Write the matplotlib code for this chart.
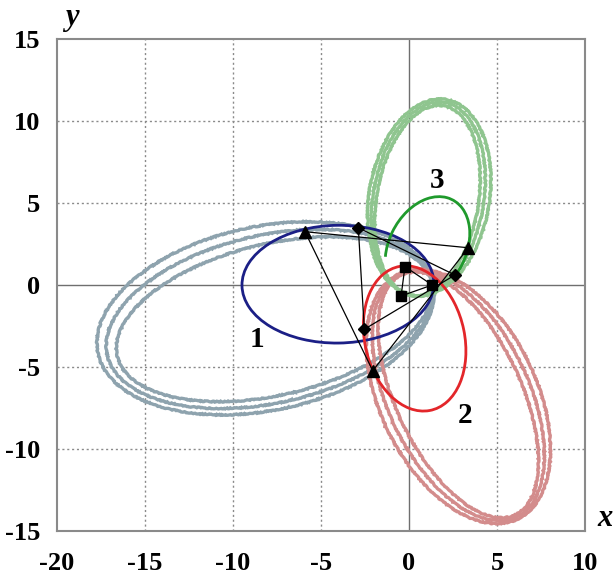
import numpy as np
import matplotlib
matplotlib.use("Agg")
import matplotlib.pyplot as plt
from matplotlib.patches import Ellipse, Arc

# ---- data (ellipse parameters) ----
# wide precessing loops (3 loops per body): center x, center y, width, height, angle
gray_cx = [-8.16, -7.91, -7.66]
gray_cy = [-2.03, -2.07, -2.09]
gray_w = [19.5, 19.0, 18.4]
gray_h = [11.18, 10.2, 9.18]
gray_ang = [13.4, 14.1, 14.9]

pink_cx = [2.80, 2.80, 2.80]
pink_cy = [-6.80, -6.75, -6.70]
pink_w = [16.4, 16.2, 16.0]
pink_h = [9.0, 8.1, 7.2]
pink_ang = [-67.0, -67.0, -67.0]

lgreen_cx = [1.15, 1.10, 1.05]
lgreen_cy = [5.33, 5.25, 5.15]
lgreen_w = [6.85, 6.30, 5.80]
lgreen_h = [12.11, 11.9, 11.7]
lgreen_ang = [-8.5, -8.5, -8.5]

# the three small orbits 1, 2, 3
orb_cx = [-4.04, 0.32, 1.05]
orb_cy = [0.05, -3.26, 2.27]
orb_w = [10.90, 5.68, 6.51]
orb_h = [7.18, 8.95, 4.43]
orb_ang = [0.9, 10.9, 66.9]
orb_t1 = [0, 0, -114]
orb_t2 = [360, 360, 126]
orb_labels = ["1", "2", "3"]
label_x = [-8.65, 3.18, 1.57]
label_y = [-3.35, -7.93, 6.4]

# three configurations of the bodies
tri_x = [-5.91, 3.37, -2.06]
tri_y = [3.25, 2.27, -5.23]
dia_x = [-2.88, 2.61, -2.54]
dia_y = [3.49, 0.61, -2.70]
sq_x = [-0.23, 1.32, -0.45]
sq_y = [1.12, 0.00, -0.67]

xticks = [-20, -15, -10, -5, 0, 5, 10]
yticks = [-15, -10, -5, 0, 5, 10, 15]

# ---- drawing ----
fig = plt.figure(figsize=(6.15, 5.78), dpi=100)
ax = fig.add_axes([57/615, 1-531/578, 528/615, 492/578])
ax.set_xlim(-20, 10)
ax.set_ylim(-15, 15)

for v in xticks[1:-1]:
    if v == 0:
        ax.axvline(v, color='#6f6f6f', lw=1.0, zorder=1)
    else:
        ax.axvline(v, color='#8a8a8a', lw=1.0, ls=(0, (1.5, 2)), zorder=1)
for v in yticks[1:-1]:
    if v == 0:
        ax.axhline(v, color='#6f6f6f', lw=1.0, zorder=1)
    else:
        ax.axhline(v, color='#8a8a8a', lw=1.0, ls=(0, (1.5, 2)), zorder=1)

def loops(cx, cy, w, h, ang, color):
    for i in range(len(cx)):
        e = Ellipse((cx[i], cy[i]), w[i], h[i], angle=ang[i], fill=False,
                    edgecolor=color, lw=2.4, zorder=2)
        e.set_sketch_params(scale=0.5, length=3, randomness=8)
        ax.add_patch(e)

loops(gray_cx, gray_cy, gray_w, gray_h, gray_ang, '#8ea3ae')
loops(pink_cx, pink_cy, pink_w, pink_h, pink_ang, '#d38c8c')
loops(lgreen_cx, lgreen_cy, lgreen_w, lgreen_h, lgreen_ang, '#8fc58f')

orb_cols = ['#1b1f86', '#e3262a', '#1f9a2c']
for i in range(3):
    a = Arc((orb_cx[i], orb_cy[i]), orb_w[i], orb_h[i], angle=orb_ang[i],
            theta1=orb_t1[i], theta2=orb_t2[i], color=orb_cols[i], lw=2.0, zorder=3)
    ax.add_patch(a)
    ax.text(label_x[i], label_y[i], orb_labels[i], fontsize=21, fontweight='bold',
            family='Liberation Serif', ha='center', va='center', zorder=6)

for xs, ys, m, ms in [(tri_x, tri_y, '^', 8), (dia_x, dia_y, 'D', 6), (sq_x, sq_y, 's', 7)]:
    ax.plot(xs + xs[:1], ys + ys[:1], color='black', lw=0.9, zorder=4)
    ax.plot(xs, ys, ls='none', marker=m, ms=ms, color='black', zorder=5)

ax.set_xticks(xticks)
ax.set_yticks(yticks)
ax.set_xticklabels([str(v) for v in xticks])
ax.set_yticklabels([str(v) for v in yticks])
ax.tick_params(axis='both', length=0, labelsize=19)
ax.tick_params(axis='x', pad=15)
ax.tick_params(axis='y', pad=12)
for lab in ax.get_xticklabels() + ax.get_yticklabels():
    lab.set_family('Liberation Serif')
    lab.set_fontweight('bold')
for s in ax.spines.values():
    s.set_color('#8a8a8a')
    s.set_linewidth(1.5)

fig.text(605/615, 1-518/578, 'x', fontsize=22, fontweight='bold', fontstyle='italic',
         family='Liberation Serif', ha='center', va='center')
fig.text(72/615, 1-18/578, 'y', fontsize=22, fontweight='bold', fontstyle='italic',
         family='Liberation Serif', ha='center', va='center')

fig.savefig('out.png')
